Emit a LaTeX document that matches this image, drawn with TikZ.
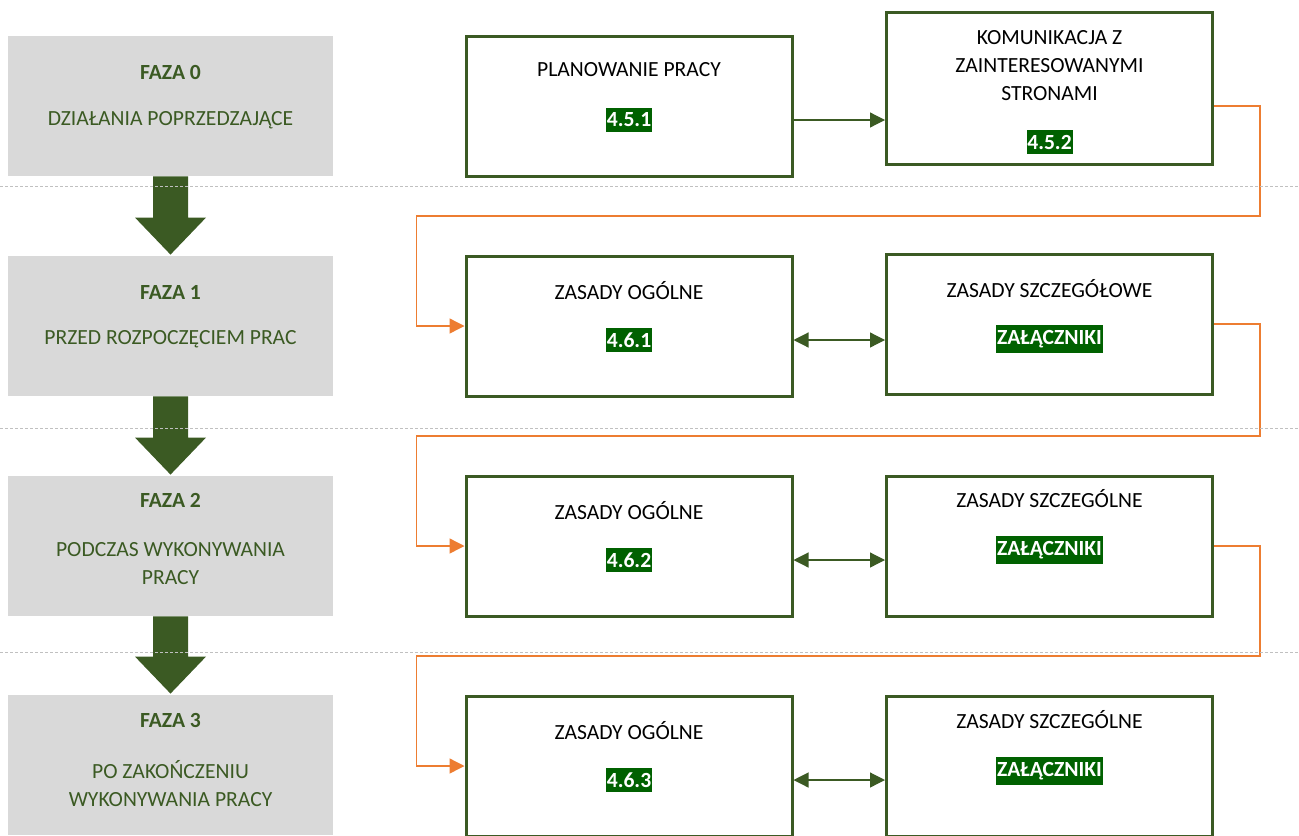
\documentclass[tikz,border=0pt]{standalone}
\usepackage{fontspec}
\setmainfont{Carlito}
\usetikzlibrary{arrows.meta, calc, positioning}
\definecolor{fazagray}{HTML}{D9D9D9}
\definecolor{darkgreen}{HTML}{3B5A23}
\definecolor{tagbg}{HTML}{006100}
\definecolor{linkorange}{HTML}{ED7D31}
\definecolor{rulegray}{HTML}{C0C0C0}
\tikzset{
  faza/.style={rectangle, fill=fazagray, minimum width=162.5pt, minimum height=70pt, inner sep=0pt},
  krok/.style={rectangle, draw=darkgreen, line width=1.5pt, fill=white, minimum width=163pt, minimum height=70pt, inner sep=0pt},
  fazatxt/.style={text=darkgreen, align=center, inner sep=0pt, font=\fontsize{10.8}{14}\selectfont},
  kroktxt/.style={text=black, align=center, inner sep=0pt, font=\fontsize{10.8}{14}\selectfont},
  tag/.style={fill=tagbg, text=white, inner xsep=0.4pt, inner ysep=2.5pt, font=\fontsize{10.8}{14}\selectfont\bfseries},
  pfeil/.style={fill=darkgreen},
  link/.style={draw=darkgreen, line width=0.6pt, -{Triangle[length=7.5pt,width=7.5pt]}},
  dlink/.style={draw=darkgreen, line width=0.6pt, {Triangle[length=7.5pt,width=7.5pt]}-{Triangle[length=7.5pt,width=7.5pt]}},
  przejscie/.style={draw=linkorange, line width=0.7pt, -{Triangle[length=7.5pt,width=7.5pt]}},
  podzial/.style={draw=rulegray, line width=0.5pt, dash pattern=on 1.5pt off 1pt}
}
\begin{document}
\begin{tikzpicture}[x=0.5pt, y=-0.5pt]
    \useasboundingbox (0,0) rectangle (1299,835);
    \clip (0,0) rectangle (1299,835);
    % phases
    \node (f0) [faza] at (170.5,106) {};
    \node (f1) [faza] at (170.5,326) {};
    \node (f2) [faza] at (170.5,546) {};
    \node (f3) [faza] at (170.5,765) {};
    \node (f0h) [fazatxt, font=\fontsize{10.8}{14}\selectfont\bfseries] at ($(f0)+(0,-34)$) {FAZA 0};
    \node (f0t) [fazatxt] at ($(f0)+(0,14)$) {DZIAŁANIA POPRZEDZAJĄCE};
    \node (f1h) [fazatxt, font=\fontsize{10.8}{14}\selectfont\bfseries] at ($(f1)+(0,-34)$) {FAZA 1};
    \node (f1t) [fazatxt] at ($(f1)+(0,13)$) {PRZED ROZPOCZĘCIEM PRAC};
    \node (f2h) [fazatxt, font=\fontsize{10.8}{14}\selectfont\bfseries] at ($(f2)+(0,-46)$) {FAZA 2};
    \node (f2t) [fazatxt] at ($(f2)+(0,18)$) {PODCZAS WYKONYWANIA\\PRACY};
    \node (f3h) [fazatxt, font=\fontsize{10.8}{14}\selectfont\bfseries] at ($(f3)+(0,-45)$) {FAZA 3};
    \node (f3t) [fazatxt] at ($(f3)+(0,19)$) {PO ZAKOŃCZENIU\\WYKONYWANIA PRACY};
    % block arrows between phases
    \foreach \a/\b in {f0/f1, f1/f2, f2/f3}
        \fill[pfeil] ($(\a.south)+(-17.5,0)$) -- ($(\a.south)+(17.5,0)$) -- ($(\b.north)+(17.5,-38)$)
            -- ($(\b.north)+(35.5,-38)$) -- ($(\b.north)+(0,-1)$) -- ($(\b.north)+(-35.5,-38)$)
            -- ($(\b.north)+(-17.5,-38)$) -- cycle;
    % steps
    \node (plan) [krok] at (629,106) {};
    \node (kom) [krok, minimum height=76pt] at (1049.5,88) {};
    \node (ogol1) [krok] at (629,326) {};
    \node (szcz1) [krok] at (1049.5,324) {};
    \node (ogol2) [krok] at (629,546) {};
    \node (szcz2) [krok] at (1049.5,546) {};
    \node (ogol3) [krok] at (629,766) {};
    \node (szcz3) [krok] at (1049.5,766) {};
    \node (plant) [kroktxt] at ($(plan)+(0,-36)$) {PLANOWANIE PRACY};
    \node (t451) [tag] at ($(plan)+(0,14)$) {4.5.1};
    \node (komt) [kroktxt] at ($(kom)+(0,-22)$) {KOMUNIKACJA Z\\ZAINTERESOWANYMI\\STRONAMI};
    \node (t452) [tag] at ($(kom)+(0,54)$) {4.5.2};
    \node (ogol1t) [kroktxt] at ($(ogol1)+(0,-35)$) {ZASADY OGÓLNE};
    \node (t461) [tag] at ($(ogol1)+(0,14)$) {4.6.1};
    \node (szcz1t) [kroktxt] at ($(szcz1)+(0,-35)$) {ZASADY SZCZEGÓŁOWE};
    \node (z1) [tag] at ($(szcz1)+(0,15)$) {ZAŁĄCZNIKI};
    \node (ogol2t) [kroktxt] at ($(ogol2)+(0,-35)$) {ZASADY OGÓLNE};
    \node (t462) [tag] at ($(ogol2)+(0,14)$) {4.6.2};
    \node (szcz2t) [kroktxt] at ($(szcz2)+(0,-47)$) {ZASADY SZCZEGÓLNE};
    \node (z2) [tag] at ($(szcz2)+(0,4)$) {ZAŁĄCZNIKI};
    \node (ogol3t) [kroktxt] at ($(ogol3)+(0,-35)$) {ZASADY OGÓLNE};
    \node (t463) [tag] at ($(ogol3)+(0,14)$) {4.6.3};
    \node (szcz3t) [kroktxt] at ($(szcz3)+(0,-46)$) {ZASADY SZCZEGÓLNE};
    \node (z3) [tag] at ($(szcz3)+(0,5)$) {ZAŁĄCZNIKI};
    % connectors
    \draw [link] (plan.east |- t451) -- (kom.west |- t451);
    \draw [dlink] (ogol1.east |- t461) -- (szcz1.west |- t461);
    \draw [dlink] (ogol2.east |- t462) -- (szcz2.west |- t462);
    \draw [dlink] (ogol3.east |- t463) -- (szcz3.west |- t463);
    \draw [przejscie] (kom.east |- plan) -- ++(46,0) -- ++(0,110) -| ($(ogol1.west)+(-48,0)$) -- (ogol1.west);
    \draw [przejscie] (szcz1.east) -- ++(46,0) -- ++(0,112) -| ($(ogol2.west)+(-48,0)$) -- (ogol2.west);
    \draw [przejscie] (szcz2.east) -- ++(46,0) -- ++(0,110) -| ($(ogol3.west)+(-48,0)$) -- (ogol3.west);
    % dividers
    \foreach \y in {186, 428, 652}
        \draw [podzial] (0,\y) -- (1299,\y);
\end{tikzpicture}
\end{document}
